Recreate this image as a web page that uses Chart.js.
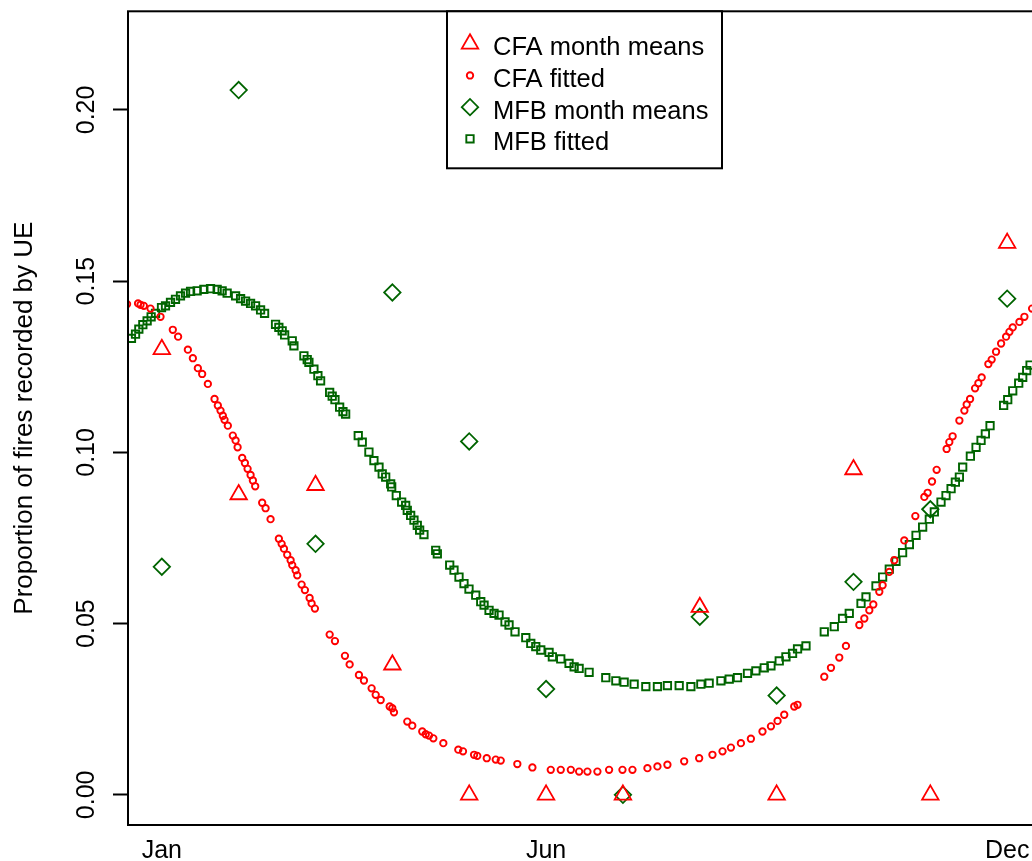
<!DOCTYPE html>
<html>
<head>
<meta charset="utf-8">
<title>Proportion of fires recorded by UE</title>
<script src="https://cdn.jsdelivr.net/npm/chart.js@4.4.1/dist/chart.umd.min.js"></script>
<style>
  html, body { margin: 0; padding: 0; overflow: hidden; background: #fff; }
  canvas { display: block; }
</style>
</head>
<body>
<canvas id="grafico" width="1060" height="861"></canvas>
<script>
// datos (x = mes, 1 = Enero)
var meses = [1, 2, 3, 4, 5, 6, 7, 8, 9, 10, 11, 12];
var mesTicks = [1, 6, 12];
var mesEtiquetas = ["Jan", "Jun", "Dec"];
var yTicks = [0, 0.05, 0.10, 0.15, 0.20];

var cfaMedias = [0.1301, 0.0877, 0.0904, 0.0380, 0, 0, 0, 0.0548, 0, 0.0950, 0, 0.1611];
var mfbMedias = [0.0666, 0.2058, 0.0733, 0.1467, 0.1032, 0.0309, 0, 0.0520, 0.0290, 0.0622, 0.0834, 0.1449];

var cfaAjuste = [
  [0.548,0.1433],[0.691,0.1435],[0.723,0.1431],[0.766,0.1428],[0.853,0.1420],[0.983,0.1396],[1.143,0.1358],[1.212,0.1338],
  [1.339,0.1300],[1.404,0.1275],[1.469,0.1246],[1.525,0.1229],[1.599,0.1200],[1.686,0.1156],[1.729,0.1137],[1.764,0.1122],
  [1.794,0.1107],[1.816,0.1095],[1.859,0.1078],[1.924,0.1049],[1.960,0.1035],[1.986,0.1015],[2.046,0.0984],[2.081,0.0969],
  [2.116,0.0952],[2.155,0.0934],[2.185,0.0918],[2.215,0.0901],[2.306,0.0853],[2.350,0.0837],[2.415,0.0805],[2.523,0.0748],
  [2.559,0.0733],[2.589,0.0719],[2.632,0.0701],[2.676,0.0685],[2.697,0.0671],[2.741,0.0656],[2.762,0.0641],[2.819,0.0614],
  [2.862,0.0598],[2.923,0.0575],[2.949,0.0559],[2.992,0.0544],[3.184,0.0468],[3.253,0.0449],[3.383,0.0406],[3.444,0.0381],
  [3.565,0.0350],[3.630,0.0334],[3.730,0.0311],[3.783,0.0292],[3.848,0.0277],[3.965,0.0258],[3.999,0.0253],[4.021,0.0241],
  [4.194,0.0214],[4.259,0.0202],[4.389,0.0185],[4.434,0.0177],[4.477,0.0173],[4.533,0.0165],[4.663,0.0151],[4.858,0.0132],
  [4.919,0.0127],[5.063,0.0117],[5.105,0.0114],[5.228,0.0107],[5.345,0.0103],[5.410,0.0100],[5.626,0.0090],[5.822,0.0080],
  [6.061,0.0073],[6.191,0.0073],[6.322,0.0073],[6.430,0.0068],[6.538,0.0068],[6.668,0.0068],[6.820,0.0073],[6.994,0.0073],
  [7.124,0.0073],[7.319,0.0078],[7.449,0.0083],[7.579,0.0088],[7.797,0.0098],[7.992,0.0107],[8.165,0.0117],[8.296,0.0127],
  [8.405,0.0138],[8.535,0.0151],[8.665,0.0164],[8.816,0.0185],[8.926,0.0200],[9.012,0.0216],[9.099,0.0234],[9.229,0.0258],
  [9.272,0.0263],[9.620,0.0345],[9.707,0.0371],[9.815,0.0401],[9.902,0.0435],[10.076,0.0496],[10.141,0.0515],[10.206,0.0539],
  [10.258,0.0556],[10.336,0.0593],[10.379,0.0612],[10.466,0.0651],[10.531,0.0685],[10.661,0.0743],[10.805,0.0814],[10.922,0.0870],
  [10.965,0.0882],[11.022,0.0915],[11.082,0.0949],[11.212,0.1010],[11.247,0.1030],[11.290,0.1047],[11.378,0.1093],[11.443,0.1122],
  [11.473,0.1140],[11.517,0.1156],[11.582,0.1187],[11.625,0.1202],[11.668,0.1219],[11.755,0.1258],[11.798,0.1271],[11.855,0.1294],
  [11.921,0.1318],[11.986,0.1338],[12.029,0.1352],[12.072,0.1365],[12.159,0.1381],[12.224,0.1396],[12.324,0.1420]
];

var mfbAjuste = [
  [0.605,0.1333],[0.658,0.1345],[0.701,0.1360],[0.753,0.1373],[0.809,0.1384],[0.861,0.1396],[0.918,0.1406],[0.996,0.1423],
  [1.048,0.1428],[1.113,0.1438],[1.178,0.1447],[1.243,0.1457],[1.309,0.1465],[1.374,0.1470],[1.460,0.1472],[1.547,0.1476],
  [1.634,0.1478],[1.720,0.1476],[1.785,0.1472],[1.850,0.1465],[1.960,0.1457],[2.025,0.1449],[2.090,0.1442],[2.155,0.1435],
  [2.220,0.1428],[2.285,0.1416],[2.337,0.1406],[2.480,0.1374],[2.523,0.1365],[2.566,0.1355],[2.598,0.1343],[2.697,0.1326],
  [2.719,0.1311],[2.849,0.1282],[2.892,0.1271],[2.914,0.1263],[2.979,0.1243],[3.031,0.1224],[3.066,0.1209],[3.184,0.1175],
  [3.217,0.1164],[3.253,0.1154],[3.314,0.1132],[3.357,0.1119],[3.392,0.1112],[3.556,0.1049],[3.608,0.1030],[3.695,0.1001],
  [3.760,0.0976],[3.826,0.0957],[3.868,0.0937],[3.913,0.0928],[3.978,0.0908],[3.991,0.0899],[4.051,0.0874],[4.121,0.0855],
  [4.173,0.0845],[4.194,0.0831],[4.238,0.0816],[4.281,0.0802],[4.324,0.0787],[4.355,0.0773],[4.411,0.0760],[4.564,0.0714],
  [4.585,0.0704],[4.746,0.0671],[4.802,0.0656],[4.867,0.0636],[4.932,0.0617],[4.997,0.0601],[5.085,0.0583],[5.150,0.0564],
  [5.193,0.0554],[5.258,0.0539],[5.323,0.0530],[5.388,0.0525],[5.466,0.0505],[5.518,0.0496],[5.596,0.0476],[5.736,0.0459],
  [5.801,0.0442],[5.866,0.0433],[5.931,0.0423],[6.039,0.0416],[6.082,0.0403],[6.191,0.0397],[6.299,0.0384],[6.365,0.0374],
  [6.430,0.0369],[6.560,0.0358],[6.777,0.0342],[6.908,0.0333],[7.016,0.0329],[7.146,0.0323],[7.298,0.0316],[7.449,0.0316],
  [7.579,0.0319],[7.732,0.0319],[7.884,0.0316],[8.014,0.0323],[8.122,0.0326],[8.275,0.0333],[8.383,0.0338],[8.491,0.0342],
  [8.621,0.0355],[8.730,0.0362],[8.839,0.0371],[8.926,0.0377],[9.034,0.0391],[9.121,0.0403],[9.207,0.0413],[9.272,0.0426],
  [9.382,0.0435],[9.620,0.0476],[9.750,0.0491],[9.858,0.0515],[9.945,0.0530],[10.098,0.0559],[10.163,0.0578],[10.293,0.0610],
  [10.379,0.0636],[10.466,0.0659],[10.553,0.0682],[10.639,0.0707],[10.727,0.0731],[10.814,0.0758],[10.900,0.0782],[10.987,0.0805],
  [11.052,0.0826],[11.139,0.0855],[11.204,0.0874],[11.270,0.0894],[11.326,0.0913],[11.378,0.0928],[11.421,0.0957],[11.521,0.0989],
  [11.595,0.1015],[11.660,0.1035],[11.716,0.1054],[11.777,0.1078],[11.954,0.1137],[12.007,0.1154],[12.072,0.1180],[12.150,0.1202],
  [12.202,0.1219],[12.254,0.1239],[12.298,0.1255]
];

var ROJO = "#ff0000";
var VERDE = "#006400";
var FUENTE = "'Liberation Sans', Arial, Helvetica, sans-serif";

Chart.defaults.font.family = FUENTE;
Chart.defaults.font.size = 25;
Chart.defaults.color = "#000";

function puntos(pares) {
    return pares.map(function (p) { return { x: p[0], y: p[1] }; });
}

function medias(valores) {
    return meses.map(function (m, i) { return { x: m, y: valores[i] }; });
}

// sin relleno extra por las etiquetas de los extremos
function sinRelleno(scale) {
    scale.paddingTop = 0;
    scale.paddingBottom = 0;
    scale.paddingLeft = 0;
    scale.paddingRight = 0;
}

// caja alrededor del area de trazado (como box() en R)
var caja = {
    id: "caja",
    afterDatasetsDraw: function (chart) {
        var ctx = chart.ctx, a = chart.chartArea;
        ctx.save();
        ctx.strokeStyle = "#000";
        ctx.lineWidth = 2;
        ctx.strokeRect(a.left, a.top, a.right - a.left, a.bottom - a.top);
        ctx.restore();
    }
};

// leyenda con marco, arriba y centrada dentro del area
var leyenda = {
    id: "leyenda",
    afterDraw: function (chart) {
        var ctx = chart.ctx, a = chart.chartArea;
        var ancho = 275, alto = 157;
        var izq = (a.left + a.right) / 2 - ancho / 2;
        var arriba = a.top;
        ctx.save();
        ctx.fillStyle = "#fff";
        ctx.fillRect(izq, arriba, ancho, alto);
        ctx.strokeStyle = "#000";
        ctx.lineWidth = 2;
        ctx.strokeRect(izq, arriba, ancho, alto);

        chart.data.datasets.forEach(function (ds, i) {
            var base = arriba + 44 + i * 31.67;
            ctx.strokeStyle = ds.borderColor;
            ctx.fillStyle = "rgba(0,0,0,0)";
            ctx.lineWidth = ds.borderWidth;
            Chart.helpers.drawPoint(ctx, {
                pointStyle: ds.pointStyle,
                radius: ds.pointRadius,
                borderWidth: ds.borderWidth,
                rotation: 0
            }, izq + 23, base - 11.5);
            ctx.fillStyle = "#000";
            ctx.font = "25.5px " + FUENTE;
            ctx.textBaseline = "alphabetic";
            ctx.textAlign = "left";
            ctx.fillText(ds.label, izq + 46, base);
        });
        ctx.restore();
    }
};

var grafico = new Chart(document.getElementById("grafico"), {
    type: "scatter",
    data: {
        datasets: [{
            label: "CFA month means",
            data: medias(cfaMedias),
            pointStyle: "triangle",
            pointRadius: 9.5,
            borderColor: ROJO,
            backgroundColor: "rgba(0,0,0,0)",
            borderWidth: 1.8,
            order: 1
        }, {
            label: "CFA fitted",
            data: puntos(cfaAjuste),
            pointStyle: "circle",
            pointRadius: 3.2,
            borderColor: ROJO,
            backgroundColor: "rgba(0,0,0,0)",
            borderWidth: 1.9,
            order: 3
        }, {
            label: "MFB month means",
            data: medias(mfbMedias),
            pointStyle: "rectRot",
            pointRadius: 8.2,
            borderColor: VERDE,
            backgroundColor: "rgba(0,0,0,0)",
            borderWidth: 1.8,
            order: 2
        }, {
            label: "MFB fitted",
            data: puntos(mfbAjuste),
            pointStyle: "rect",
            pointRadius: 5.2,
            borderColor: VERDE,
            backgroundColor: "rgba(0,0,0,0)",
            borderWidth: 1.9,
            order: 4
        }]
    },
    options: {
        responsive: false,
        animation: false,
        events: [],
        layout: { padding: { top: 8, right: 19, bottom: 0, left: 0 } },
        plugins: {
            legend: { display: false },
            tooltip: { enabled: false }
        },
        scales: {
            x: {
                type: "linear",
                min: 0.56,
                max: 12.44,
                grid: { display: false },
                border: { display: false },
                afterBuildTicks: function (scale) {
                    scale.ticks = mesTicks.map(function (v) { return { value: v }; });
                },
                afterFit: function (scale) {
                    scale.height = 36;
                    sinRelleno(scale);
                },
                ticks: {
                    autoSkip: false,
                    maxRotation: 0,
                    padding: 3,
                    callback: function (v) { return mesEtiquetas[mesTicks.indexOf(v)]; }
                }
            },
            y: {
                type: "linear",
                min: -0.0088,
                max: 0.2288,
                grid: {
                    drawOnChartArea: false,
                    drawTicks: true,
                    tickLength: 15,
                    tickColor: "#000",
                    tickWidth: 2
                },
                border: { display: false },
                afterBuildTicks: function (scale) {
                    scale.ticks = yTicks.map(function (v) { return { value: v }; });
                },
                afterFit: function (scale) {
                    scale.width = 128;
                    sinRelleno(scale);
                },
                ticks: {
                    minRotation: 90,
                    maxRotation: 90,
                    crossAlign: "center",
                    padding: 2,
                    callback: function (v) { return v.toFixed(2); }
                },
                title: {
                    display: true,
                    text: "Proportion of fires recorded by UE",
                    font: { size: 26 },
                    padding: { top: 9, bottom: 0 }
                }
            }
        }
    },
    plugins: [caja, leyenda]
});
</script>
</body>
</html>
